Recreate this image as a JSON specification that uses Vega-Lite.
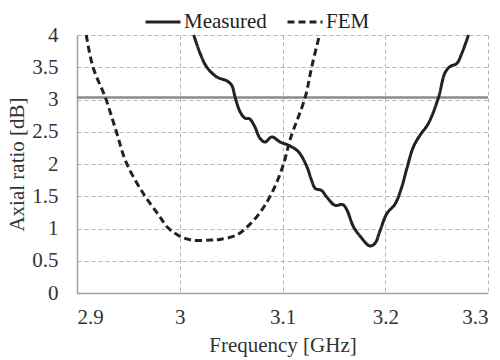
{
  "$schema": "https://vega.github.io/schema/vega-lite/v6.json",
  "width": 411,
  "height": 258,
  "autosize": {"type": "none"},
  "padding": {"left": 77, "top": 35, "right": 12, "bottom": 67},
  "background": "white",
  "config": {
    "view": {"stroke": null},
    "font": "Liberation Serif",
    "axis": {
      "grid": true,
      "gridDash": [4, 3],
      "gridColor": "#b5b5b5",
      "gridWidth": 1,
      "domainColor": "#a0a0a0",
      "domainWidth": 1.5,
      "ticks": false,
      "labelOverlap": false,
      "labelFont": "Liberation Serif",
      "labelFontSize": 21,
      "labelColor": "#333333",
      "titleFont": "Liberation Serif",
      "titleFontSize": 21,
      "titleFontWeight": "normal",
      "titleColor": "#333333"
    },
    "legend": {
      "orient": "none",
      "legendX": 67,
      "legendY": -32,
      "direction": "horizontal",
      "padding": 0,
      "labelFont": "Liberation Serif",
      "labelFontSize": 21,
      "labelColor": "#222222",
      "symbolType": "stroke",
      "symbolSize": 1225,
      "symbolStrokeWidth": 3,
      "symbolStrokeColor": "#222222",
      "labelOffset": 2,
      "columnPadding": 14,
      "title": null
    }
  },
  "encoding": {
    "y": {
      "field": "ar",
      "type": "quantitative",
      "title": "Axial ratio [dB]",
      "scale": {"domain": [0, 4], "nice": false},
      "axis": {"values": [0, 0.5, 1, 1.5, 2, 2.5, 3, 3.5, 4], "format": "~g", "labelPadding": 19, "titlePadding": 4, "labelOverlap": false}
    }
  },
  "layer": [
    {
      "data": {"values": [{"ar": 3.03}]},
      "mark": {"type": "rule", "color": "#8a8a8a", "strokeWidth": 2.5},
      "encoding": {}
    },
    {
      "data": {
        "values": [
          {"f": 3.0136, "ar": 4.0, "s": "Measured"},
          {"f": 3.0197, "ar": 3.72, "s": "Measured"},
          {"f": 3.026, "ar": 3.51, "s": "Measured"},
          {"f": 3.036, "ar": 3.35, "s": "Measured"},
          {"f": 3.0457, "ar": 3.29, "s": "Measured"},
          {"f": 3.0506, "ar": 3.22, "s": "Measured"},
          {"f": 3.0538, "ar": 3.04, "s": "Measured"},
          {"f": 3.0587, "ar": 2.81, "s": "Measured"},
          {"f": 3.0636, "ar": 2.71, "s": "Measured"},
          {"f": 3.068, "ar": 2.7, "s": "Measured"},
          {"f": 3.073, "ar": 2.58, "s": "Measured"},
          {"f": 3.078, "ar": 2.4, "s": "Measured"},
          {"f": 3.083, "ar": 2.34, "s": "Measured"},
          {"f": 3.0896, "ar": 2.42, "s": "Measured"},
          {"f": 3.0977, "ar": 2.34, "s": "Measured"},
          {"f": 3.106, "ar": 2.29, "s": "Measured"},
          {"f": 3.1155, "ar": 2.19, "s": "Measured"},
          {"f": 3.1237, "ar": 1.96, "s": "Measured"},
          {"f": 3.128, "ar": 1.76, "s": "Measured"},
          {"f": 3.132, "ar": 1.62, "s": "Measured"},
          {"f": 3.138, "ar": 1.59, "s": "Measured"},
          {"f": 3.143, "ar": 1.49, "s": "Measured"},
          {"f": 3.151, "ar": 1.36, "s": "Measured"},
          {"f": 3.1587, "ar": 1.37, "s": "Measured"},
          {"f": 3.1626, "ar": 1.29, "s": "Measured"},
          {"f": 3.169, "ar": 1.03, "s": "Measured"},
          {"f": 3.1756, "ar": 0.88, "s": "Measured"},
          {"f": 3.185, "ar": 0.73, "s": "Measured"},
          {"f": 3.19, "ar": 0.77, "s": "Measured"},
          {"f": 3.195, "ar": 0.97, "s": "Measured"},
          {"f": 3.2015, "ar": 1.23, "s": "Measured"},
          {"f": 3.2096, "ar": 1.38, "s": "Measured"},
          {"f": 3.216, "ar": 1.64, "s": "Measured"},
          {"f": 3.221, "ar": 1.93, "s": "Measured"},
          {"f": 3.2275, "ar": 2.27, "s": "Measured"},
          {"f": 3.234, "ar": 2.45, "s": "Measured"},
          {"f": 3.242, "ar": 2.63, "s": "Measured"},
          {"f": 3.2518, "ar": 3.03, "s": "Measured"},
          {"f": 3.258, "ar": 3.41, "s": "Measured"},
          {"f": 3.263, "ar": 3.51, "s": "Measured"},
          {"f": 3.2697, "ar": 3.56, "s": "Measured"},
          {"f": 3.2746, "ar": 3.72, "s": "Measured"},
          {"f": 3.281, "ar": 4.0, "s": "Measured"},
          {"f": 2.909, "ar": 4.0, "s": "FEM"},
          {"f": 2.9156, "ar": 3.5, "s": "FEM"},
          {"f": 2.9276, "ar": 3.03, "s": "FEM"},
          {"f": 2.9383, "ar": 2.5, "s": "FEM"},
          {"f": 2.948, "ar": 2.02, "s": "FEM"},
          {"f": 2.965, "ar": 1.53, "s": "FEM"},
          {"f": 2.979, "ar": 1.22, "s": "FEM"},
          {"f": 2.988, "ar": 1.02, "s": "FEM"},
          {"f": 2.999, "ar": 0.89, "s": "FEM"},
          {"f": 3.012, "ar": 0.82, "s": "FEM"},
          {"f": 3.03, "ar": 0.82, "s": "FEM"},
          {"f": 3.039, "ar": 0.83, "s": "FEM"},
          {"f": 3.0555, "ar": 0.9, "s": "FEM"},
          {"f": 3.068, "ar": 1.06, "s": "FEM"},
          {"f": 3.08, "ar": 1.29, "s": "FEM"},
          {"f": 3.0896, "ar": 1.55, "s": "FEM"},
          {"f": 3.098, "ar": 1.86, "s": "FEM"},
          {"f": 3.1025, "ar": 2.08, "s": "FEM"},
          {"f": 3.1074, "ar": 2.38, "s": "FEM"},
          {"f": 3.122, "ar": 3.03, "s": "FEM"},
          {"f": 3.1285, "ar": 3.51, "s": "FEM"},
          {"f": 3.136, "ar": 4.0, "s": "FEM"}
        ]
      },
      "mark": {"type": "line", "color": "#222222", "strokeWidth": 3, "interpolate": "catmull-rom"},
      "encoding": {
        "x": {
          "field": "f",
          "type": "quantitative",
          "title": "Frequency [GHz]",
          "scale": {"domain": [2.9, 3.3], "nice": false, "zero": false},
          "axis": {"values": [2.9, 3.0, 3.1, 3.2, 3.3], "format": "~g", "labelPadding": 13, "titlePadding": 7, "labelOverlap": false}
        },
        "strokeDash": {
          "field": "s",
          "type": "nominal",
          "scale": {"domain": ["Measured", "FEM"], "range": [[1, 0], [7, 4]]},
          "legend": {"title": null}
        },
        "order": {"field": "f", "type": "quantitative"}
      }
    }
  ]
}
